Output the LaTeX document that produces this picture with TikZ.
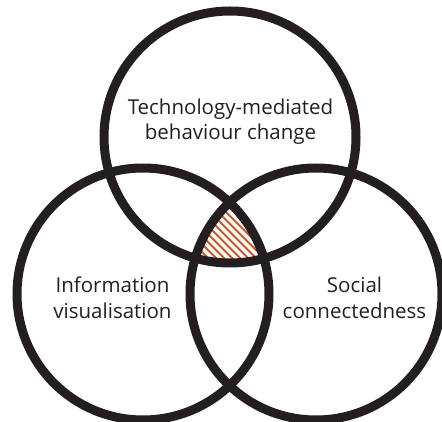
\documentclass[tikz,border=0pt]{standalone}
\usepackage{fontspec}
\setmainfont{Open Sans}
\definecolor{ink}{HTML}{231F20}
\definecolor{hatchc}{HTML}{E8501E}
\begin{document}
\begin{tikzpicture}[x=1pt,y=-1pt,
  ring/.style={draw=ink, line width=9pt},
  hatchline/.style={draw=hatchc, line width=2pt},
  lab/.style={font=\fontsize{20.5}{25}\selectfont, text=ink, anchor=base, inner sep=0pt}]
\useasboundingbox (0,0) rectangle (442,422);
\coordinate (ct) at (230,137);
\coordinate (cl) at (143,294);
\coordinate (cr) at (316,294);
\begin{scope}
  \clip (0,0) rectangle (442,422);
  \begin{scope}
    \clip (ct) circle (126);
    \clip (cl) circle (126);
    \clip (cr) circle (126);
    \foreach \i in {-30,...,30} {
      \draw[hatchline] (230+\i*8-80,160) -- ++(160,160);
    }
  \end{scope}
  \draw[ring] (ct) circle (126);
  \draw[ring] (cl) circle (126);
  \draw[ring] (cr) circle (126);
\end{scope}
\node[lab] (t1) at (230.5,115) {Technology-mediated};
\node[lab] (t2) at (230.5,140) {behaviour change};
\node[lab] (l1) at (112.5,293) {Information};
\node[lab] (l2) at (112.5,318) {visualisation};
\node[lab] (r1) at (354.5,293) {Social};
\node[lab] (r2) at (354.5,318) {connectedness};
\end{tikzpicture}
\end{document}
